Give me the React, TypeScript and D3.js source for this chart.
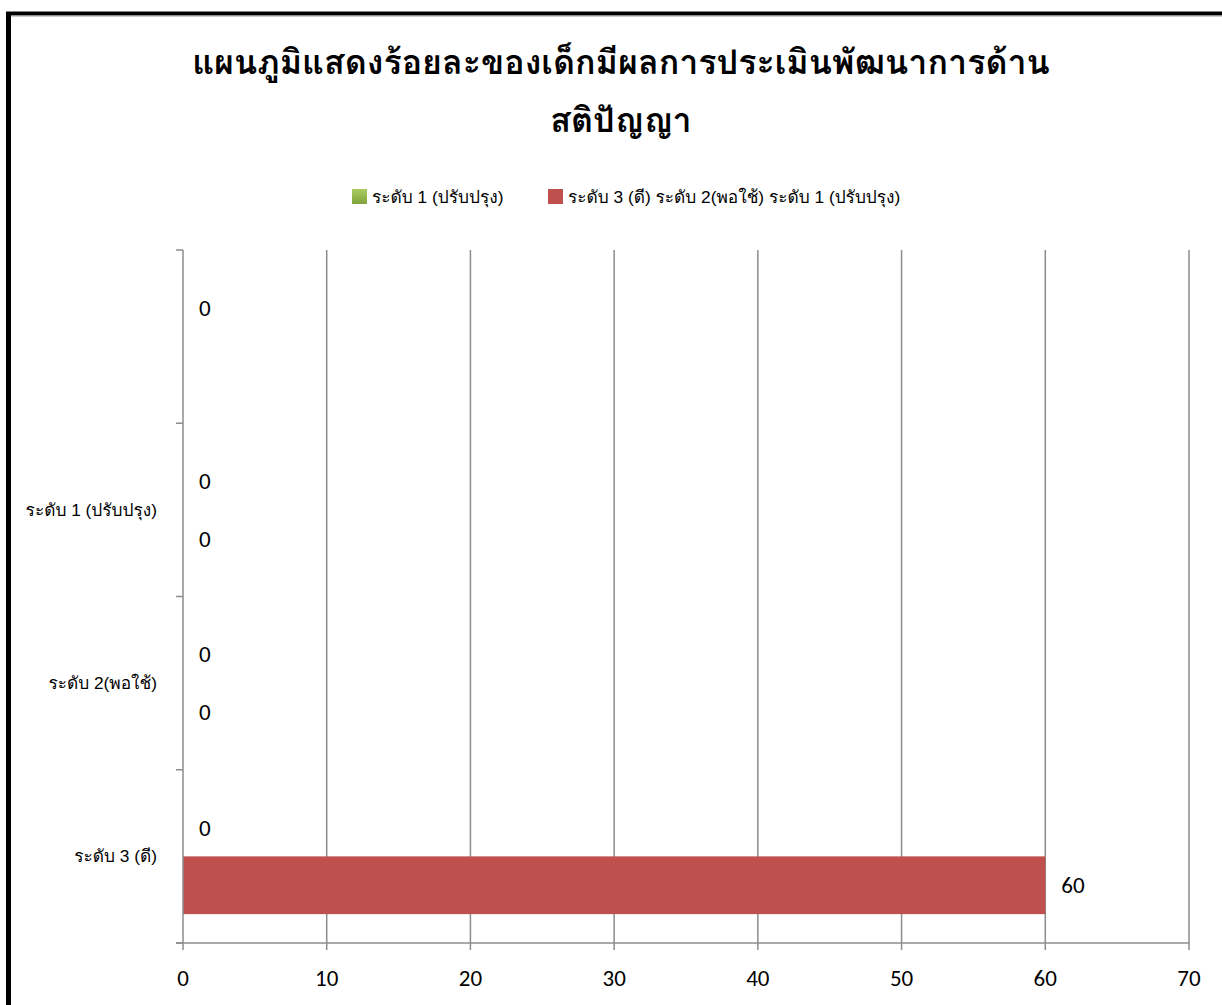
import React from "react";
import * as d3 from "d3";

const categories = ["ระดับ 3 (ดี)", "ระดับ 2(พอใช้)", "ระดับ 1 (ปรับปรุง)", ""];
const seriesNames = ["ระดับ 1 (ปรับปรุง)", "ระดับ 3 (ดี) ระดับ 2(พอใช้) ระดับ 1 (ปรับปรุง)"];
const greenValues: (number | null)[] = [0, 0, 0, 0];
const redValues: (number | null)[] = [60, 0, 0, null];
const xTicks = [0, 10, 20, 30, 40, 50, 60, 70];
const titleLines = ["แผนภูมิแสดงร้อยละของเด็กมีผลการประเมินพัฒนาการด้าน", "สติปัญญา"];

const W = 1222;
const H = 1005;
const plot = { left: 183, right: 1189, top: 250, bottom: 943 };
const thaiLooped = "Tahoma, Loma, Garuda, 'Tlwg Typo', Kinnari, Norasi, 'Noto Sans Thai Looped', 'Noto Serif Thai', 'DejaVu Sans', sans-serif";
const titleFont = thaiLooped;
const labelFont = "'Liberation Sans', Arial, " + thaiLooped;
const numFont = "Carlito, Calibri, 'Open Sans', sans-serif";
const GRID = "#8c8c8c";
const colors = ["#9BBB59", "#C0504D"];

export default function App() {
  const x = d3.scaleLinear().domain([0, 70]).range([plot.left, plot.right]);
  const y = d3
    .scaleBand<string>()
    .domain([...categories].reverse())
    .range([plot.top, plot.bottom])
    .padding(0);
  const bw = y.bandwidth();
  const inner = d3
    .scaleBand<string>()
    .domain(["g", "r"])
    .range([bw / 6, bw - bw / 6])
    .padding(0);
  const series = [
    { key: "g", values: greenValues, color: colors[0] },
    { key: "r", values: redValues, color: colors[1] },
  ];
  const bounds = d3.range(categories.length + 1).map((i) => plot.top + i * bw);

  return (
    <svg
      width={W}
      height={H}
      style={{ position: "absolute", left: 0, top: 0, background: "#fff" }}
    >
      <defs>
        <linearGradient id="gGreen" x1="0" y1="0" x2="0" y2="1">
          <stop offset="0" stopColor="#A9CB62" />
          <stop offset="1" stopColor="#7FA33A" />
        </linearGradient>
      </defs>
      {/* border */}
      <line x1={8.5} y1={12} x2={8.5} y2={H} stroke="#000" strokeWidth={5} />
      <line x1={6} y1={13.5} x2={W} y2={13.5} stroke="#000" strokeWidth={4} />
      <line x1={11} y1={16} x2={W} y2={16} stroke="#999" strokeWidth={1} />

      {/* title */}
      {titleLines.map((t, i) => (
        <text
          key={i}
          x={621}
          y={74 + i * 58}
          textAnchor="middle"
          fontFamily={titleFont}
          fontWeight="bold"
          fontSize={34}
          fill="#000"
        >
          {t}
        </text>
      ))}

      {/* legend */}
      <rect x={352} y={189} width={15} height={15} fill="url(#gGreen)" />
      <text x={372} y={203} fontFamily={labelFont} fontSize={17.3} fill="#000">
        {seriesNames[0]}
      </text>
      <rect x={548} y={189} width={15} height={15} fill={colors[1]} />
      <text x={568} y={203} fontFamily={labelFont} fontSize={17.3} fill="#000">
        {seriesNames[1]}
      </text>

      {/* gridlines */}
      {xTicks.slice(1).map((t) => (
        <line key={t} x1={x(t)} x2={x(t)} y1={plot.top} y2={plot.bottom + 7} stroke={GRID} strokeWidth={1.5} />
      ))}

      {/* bars */}
      {series.map((s) =>
        categories.map((c, i) => {
          const v = s.values[i];
          if (v === null) return null;
          const y0 = (y(c) as number) + (inner(s.key) as number);
          return (
            <g key={s.key + i}>
              <rect x={x(0)} y={y0} width={x(v) - x(0)} height={inner.bandwidth()} fill={s.color} />
              <text
                x={x(v) + 16}
                y={y0 + inner.bandwidth() / 2}
                dy="0.35em"
                fontFamily={numFont}
                fontSize={23}
                fill="#000"
              >
                {v}
              </text>
            </g>
          );
        })
      )}

      {/* y axis */}
      <line x1={plot.left} x2={plot.left} y1={plot.top} y2={plot.bottom + 7} stroke={GRID} strokeWidth={1.5} />
      {bounds.map((b, i) => (
        <line key={i} x1={plot.left - 7} x2={plot.left} y1={b} y2={b} stroke={GRID} strokeWidth={1.5} />
      ))}
      {categories.map((c, i) => (
        <text
          key={i}
          x={157}
          y={(y(c) as number) + bw / 2}
          dy="0.35em"
          textAnchor="end"
          fontFamily={labelFont}
          fontSize={17.3}
          fill="#000"
        >
          {c}
        </text>
      ))}

      {/* x axis */}
      <line x1={plot.left - 7} x2={plot.right} y1={plot.bottom} y2={plot.bottom} stroke={GRID} strokeWidth={1.5} />
      {xTicks.map((t) => (
        <text
          key={t}
          x={x(t)}
          y={978}
          dy="0.35em"
          textAnchor="middle"
          fontFamily={numFont}
          fontSize={23}
          fill="#000"
        >
          {t}
        </text>
      ))}
    </svg>
  );
}
